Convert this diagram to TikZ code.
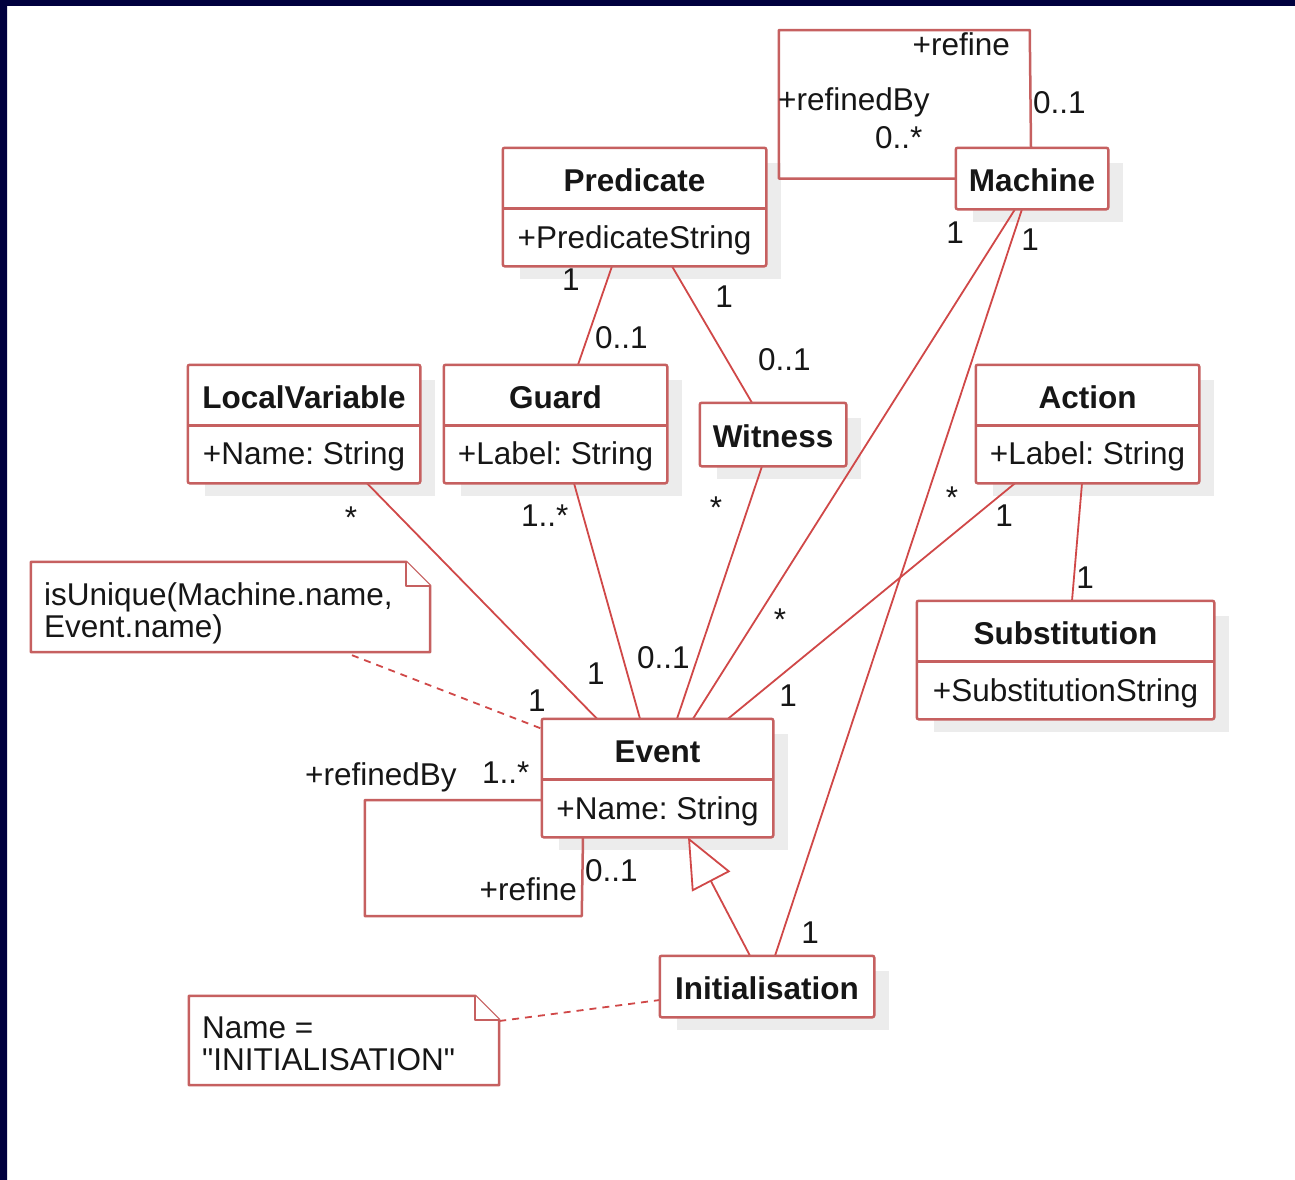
\documentclass[tikz,border=0pt]{standalone}
\usepackage{fontspec}
\setmainfont{Liberation Sans}
\newfontfamily\rawsans{Liberation Sans}[Ligatures=TeXOff]
\usetikzlibrary{arrows.meta}
\frenchspacing
\definecolor{boxred}{RGB}{198,96,96}
\definecolor{linered}{RGB}{208,72,72}
\definecolor{txt}{RGB}{22,22,22}
\definecolor{shadowgray}{RGB}{236,236,236}
\definecolor{navydark}{RGB}{0,0,62}
\definecolor{navymid}{RGB}{0,14,96}
\begin{document}
\begin{tikzpicture}[x=1pt,y=-1pt,
  cls/.style={draw=boxred, line width=2.5pt, fill=white, rounded corners=2pt, inner sep=0pt},
  notebox/.style={inner sep=0pt},
  noteline/.style={draw=boxred, line width=2.5pt, fill=white, line join=round},
  assoc/.style={draw=linered, line width=1.8pt},
  loopline/.style={draw=boxred, line width=2.5pt, line join=round},
  dep/.style={draw=linered, line width=1.8pt, dash pattern=on 7pt off 6pt},
  divider/.style={draw=boxred, line width=2.5pt},
  ttl/.style={anchor=base, inner sep=0pt, text=txt, font=\fontsize{31.5}{36}\selectfont\bfseries},
  attr/.style={anchor=base, inner sep=0pt, text=txt, font=\fontsize{31.5}{36}\selectfont},
  lab/.style={anchor=base, inner sep=0pt, text=txt, font=\fontsize{31.5}{36}\selectfont},
  notetxt/.style={anchor=base west, inner sep=0pt, text=txt, font=\fontsize{31.5}{36}\selectfont}
]
% canvas and frame
\useasboundingbox (0,0) rectangle (1295,1179);
\fill[white] (0,0) rectangle (1295,1179);
\fill[navydark] (0,0) rectangle (1295,6);
\shade[top color=navydark, middle color=navymid, bottom color=navydark] (0,0) rectangle (7,1179);

% shadows
\foreach \a/\b/\c/\d in {957/149/1107/208, 504/149/765/265, 189/366/419/482, 445/366/666/482,
  701/404/845/465, 977/366/1198/482, 918/602/1213/718, 543/720/772/836, 661/957/873/1016}
  \fill[shadowgray] (\a+16,\b+14) rectangle (\c+16,\d+14);

% class boxes
\node[cls, minimum width=150pt, minimum height=59pt] (machine) at (1032,178.5) {};
\node[cls, minimum width=261pt, minimum height=116pt] (pred) at (634.5,207) {};
\node[cls, minimum width=230pt, minimum height=116pt] (lvar) at (304,424) {};
\node[cls, minimum width=221pt, minimum height=116pt] (guard) at (555.5,424) {};
\node[cls, minimum width=144pt, minimum height=61pt] (witness) at (773,434.5) {};
\node[cls, minimum width=221pt, minimum height=116pt] (action) at (1087.5,424) {};
\node[cls, minimum width=295pt, minimum height=116pt] (subst) at (1065.5,660) {};
\node[cls, minimum width=229pt, minimum height=116pt] (event) at (657.5,778) {};
\node[cls, minimum width=212pt, minimum height=59pt] (init) at (767,986.5) {};

% notes
\node[notebox, minimum width=399pt, minimum height=90pt] (note1) at (230.5,607) {};
\node[notebox, minimum width=310pt, minimum height=89pt] (note2) at (344,1040.5) {};

% connectors
\draw[assoc] ([xshift=-22.5pt]pred.south) -- ([xshift=22.5pt]guard.north);
\draw[assoc] ([xshift=37.5pt]pred.south) -- ([xshift=-21pt]witness.north);
\draw[assoc] ([xshift=63pt]lvar.south) -- ([xshift=-60.5pt]event.north);
\draw[assoc] ([xshift=18.5pt]guard.south) -- ([xshift=-17.5pt]event.north);
\draw[assoc] ([xshift=-11pt]witness.south) -- ([xshift=19.5pt]event.north);
\draw[assoc] ([xshift=-17pt]machine.south) -- ([xshift=35.5pt]event.north);
\draw[assoc] ([xshift=-10pt]machine.south) -- ([xshift=8pt]init.north);
\draw[assoc] ([xshift=-72.5pt]action.south) -- ([xshift=70.5pt]event.north);
\draw[assoc] ([xshift=-5.5pt]action.south) -- ([xshift=6.5pt]subst.north);
\draw[assoc, -{Triangle[open, fill=white, length=50pt, width=43pt]}] ([xshift=-17pt]init.north) -- ([xshift=30.5pt]event.south);
% self loops
\draw[loopline] (machine.west) -- ++(-177,0) -- ++(0,-148.5) -- ++(251,0) -- ([xshift=-1pt]machine.north);
\draw[loopline] ([yshift=-22pt]event.west) -- ++(-177,0) -- ++(0,116) -- ++(217,0) -- ([xshift=-74.5pt]event.south);
% note links
\draw[dep] ([xshift=121.5pt,yshift=-3pt]note1.south) -- ([yshift=-10pt]event.north west);
\draw[dep] ([yshift=19.5pt]note2.east) -- ([yshift=-13.5pt]init.west);

% redraw boxes on top of connector ends
\draw[cls] (machine.north west) rectangle (machine.south east);
\draw[cls] (pred.north west) rectangle (pred.south east);
\draw[cls] (lvar.north west) rectangle (lvar.south east);
\draw[cls] (guard.north west) rectangle (guard.south east);
\draw[cls] (witness.north west) rectangle (witness.south east);
\draw[cls] (action.north west) rectangle (action.south east);
\draw[cls] (subst.north west) rectangle (subst.south east);
\draw[cls] (event.north west) rectangle (event.south east);
\draw[cls] (init.north west) rectangle (init.south east);

% dividers
\foreach \n in {pred,lvar,guard,action,subst,event}
  \draw[divider] ([yshift=-60.5pt]\n.north west) -- ([yshift=-60.5pt]\n.north east);

% note outlines
\draw[noteline] (note1.north west) -- ([xshift=-24pt]note1.north east) -- ([yshift=-24pt]note1.north east) -- (note1.south east) -- (note1.south west) -- cycle;
\draw[noteline] ([xshift=-24pt]note1.north east) -- ([xshift=-24pt,yshift=-24pt]note1.north east) -- ([yshift=-24pt]note1.north east);
\draw[noteline] (note2.north west) -- ([xshift=-24pt]note2.north east) -- ([yshift=-24pt]note2.north east) -- (note2.south east) -- (note2.south west) -- cycle;
\draw[noteline] ([xshift=-24pt]note2.north east) -- ([xshift=-24pt,yshift=-24pt]note2.north east) -- ([yshift=-24pt]note2.north east);

% class texts
\node[ttl] (tMachine) at (1032,191) {Machine};
\node[ttl] (tPred) at (634.5,191) {Predicate};
\node[attr] (aPred) at (634.5,248) {+PredicateString};
\node[ttl] (tLvar) at (304,408) {LocalVariable};
\node[attr] (aLvar) at (304,464) {+Name: String};
\node[ttl] (tGuard) at (555.5,408) {Guard};
\node[attr] (aGuard) at (555.5,464) {+Label: String};
\node[ttl] (tWitness) at (773,447) {Witness};
\node[ttl] (tAction) at (1087.5,408) {Action};
\node[attr] (aAction) at (1087.5,464) {+Label: String};
\node[ttl] (tSubst) at (1065.5,644) {Substitution};
\node[attr] (aSubst) at (1065.5,701) {+SubstitutionString};
\node[ttl] (tEvent) at (657.5,762) {Event};
\node[attr] (aEvent) at (657.5,819) {+Name: String};
\node[ttl] (tInit) at (767,999) {Initialisation};

% note texts
\node[notetxt] (n1a) at (44,605) {isUnique(Machine.name,};
\node[notetxt] (n1b) at (44,637) {Event.name)};
\node[notetxt] (n2a) at (202,1038) {Name =};
\node[notetxt] (n2b) at (202,1070) {\rawsans "INITIALISATION"};

% multiplicities and roles
\node[lab, anchor=base east] (l1) at (1010,55) {+refine};
\node[lab, anchor=base west] (l2) at (778,110) {+refinedBy};
\node[lab, anchor=base west] (l3) at (875,148) {0..*};
\node[lab, anchor=base west] (l4) at (1033,113) {0..1};
\node[lab] (l5) at (955,243) {1};
\node[lab] (l6) at (1030,250) {1};
\node[lab] (l7) at (571,290) {1};
\node[lab, anchor=base west] (l8) at (595,348) {0..1};
\node[lab] (l9) at (724,307) {1};
\node[lab, anchor=base west] (l10) at (758,370) {0..1};
\node[lab] (l11) at (351,528) {*};
\node[lab, anchor=base west] (l12) at (521,526) {1..*};
\node[lab] (l13) at (716,518) {*};
\node[lab] (l14) at (952,508) {*};
\node[lab] (l15) at (1004,526) {1};
\node[lab] (l16) at (1085,588) {1};
\node[lab] (l17) at (780,630) {*};
\node[lab] (l18) at (537,711) {1};
\node[lab] (l19) at (596,684) {1};
\node[lab, anchor=base west] (l20) at (637,668) {0..1};
\node[lab] (l21) at (788,706) {1};
\node[lab, anchor=base west] (l22) at (305,785) {+refinedBy};
\node[lab, anchor=base west] (l23) at (482,783) {1..*};
\node[lab, anchor=base east] (l24) at (577,900) {+refine};
\node[lab, anchor=base west] (l25) at (585,881) {0..1};
\node[lab] (l26) at (810,943) {1};
\end{tikzpicture}
\end{document}
